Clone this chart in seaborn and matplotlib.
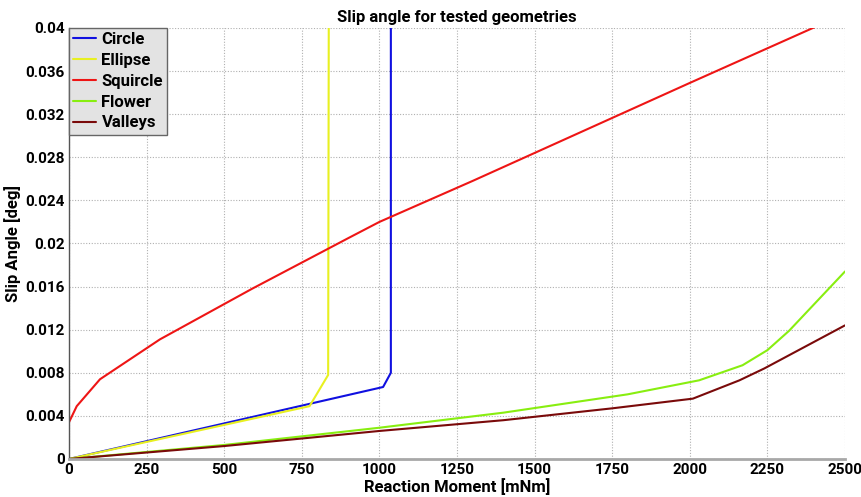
import numpy as np
import pandas as pd
import matplotlib
matplotlib.use("Agg")
import matplotlib.pyplot as plt
from matplotlib.ticker import MultipleLocator, FuncFormatter
import seaborn as sns

# Reaction moment [mNm] and slip angle [deg] for each geometry
circle_x = [0, 1012, 1037, 1037]
circle_y = [0, 0.00668, 0.0080, 0.041]

ellipse_x = [0, 775, 835, 837]
ellipse_y = [0, 0.0049, 0.0078, 0.041]

squircle_x = [0, 0, 25, 100, 293, 590, 900, 1000, 1300, 2000, 2420]
squircle_y = [0, 0.0034, 0.0049, 0.0074, 0.0111, 0.0158, 0.0205, 0.0220, 0.0258, 0.0349, 0.0403]

flower_x = [0, 500, 1000, 1400, 1800, 2030, 2170, 2250, 2320, 2500]
flower_y = [0, 0.0013, 0.0029, 0.0043, 0.0060, 0.0073, 0.0087, 0.0101, 0.0119, 0.0174]

valleys_x = [0, 500, 1000, 1400, 1750, 2010, 2160, 2240, 2500]
valleys_y = [0, 0.0012, 0.0026, 0.0036, 0.0047, 0.0056, 0.0073, 0.0084, 0.0124]

series = {
    "Circle": (circle_x, circle_y),
    "Ellipse": (ellipse_x, ellipse_y),
    "Squircle": (squircle_x, squircle_y),
    "Flower": (flower_x, flower_y),
    "Valleys": (valleys_x, valleys_y),
}
palette = {
    "Circle": "#1010e0",
    "Ellipse": "#e8f020",
    "Squircle": "#ee1515",
    "Flower": "#88ee10",
    "Valleys": "#7a0a0a",
}

frames = []
for name, (xs, ys) in series.items():
    frames.append(pd.DataFrame({"moment": xs, "slip": ys, "geometry": name}))
df = pd.concat(frames, ignore_index=True)

sns.set_theme(style="white")
plt.rcParams["font.family"] = ["Roboto", "DejaVu Sans"]
plt.rcParams["font.weight"] = "bold"
plt.rcParams["text.color"] = "#000000"
plt.rcParams["axes.labelcolor"] = "#000000"

fig = plt.figure(figsize=(8.61, 4.97), dpi=100)
ax = fig.add_axes([0.0801, 0.0765, 0.9013, 0.8672])

sns.lineplot(data=df, x="moment", y="slip", hue="geometry", palette=palette,
             sort=False, estimator=None, units="geometry", linewidth=1.5,
             ax=ax, legend=True)

ax.set_xlim(0, 2500)
ax.set_ylim(0, 0.04)
ax.xaxis.set_major_locator(MultipleLocator(250))
ax.xaxis.set_minor_locator(MultipleLocator(125))
ax.yaxis.set_major_locator(MultipleLocator(0.004))
ax.yaxis.set_minor_locator(MultipleLocator(0.002))
ax.yaxis.set_major_formatter(FuncFormatter(lambda v, p: f"{round(v, 4):g}"))

ax.grid(True, which="major", linestyle=(0, (1, 1.5)), color="#b0b0b0", linewidth=0.8)
ax.tick_params(which="both", direction="in", labelsize=11, colors="#111111",
               labelcolor="#000000", pad=3)
ax.tick_params(which="major", length=4, width=0.8, color="#777777")
ax.tick_params(which="minor", length=3, width=0.8, color="#777777")
for lab in ax.get_xticklabels() + ax.get_yticklabels():
    lab.set_fontweight("bold")

for side in ("top", "right"):
    ax.spines[side].set_visible(False)
ax.spines["left"].set_color("#555555")
ax.spines["left"].set_linewidth(1.0)
ax.spines["bottom"].set_color("#a8a8a8")
ax.spines["bottom"].set_linewidth(2.0)

ax.set_title("Slip angle for tested geometries", fontsize=12, fontweight="bold",
             color="#000000", pad=4)
ax.set_xlabel("Reaction Moment [mNm]", fontsize=12, fontweight="bold", labelpad=1)
ax.set_ylabel("Slip Angle [deg]", fontsize=12, fontweight="bold", labelpad=3)

leg = ax.legend(loc="upper left", bbox_to_anchor=(0.0, 1.0), frameon=True,
                fancybox=False, borderaxespad=0.0, handlelength=1.4,
                handletextpad=0.3, labelspacing=0.35, borderpad=0.25,
                prop={"size": 12, "weight": "bold"})
leg.get_frame().set_facecolor("#e3e3e3")
leg.get_frame().set_edgecolor("#666666")
leg.get_frame().set_linewidth(1.0)
leg.get_frame().set_alpha(1.0)
for txt in leg.get_texts():
    txt.set_color("#000000")
leg.set_title(None)

fig.savefig("out.png", dpi=100, facecolor="white")
